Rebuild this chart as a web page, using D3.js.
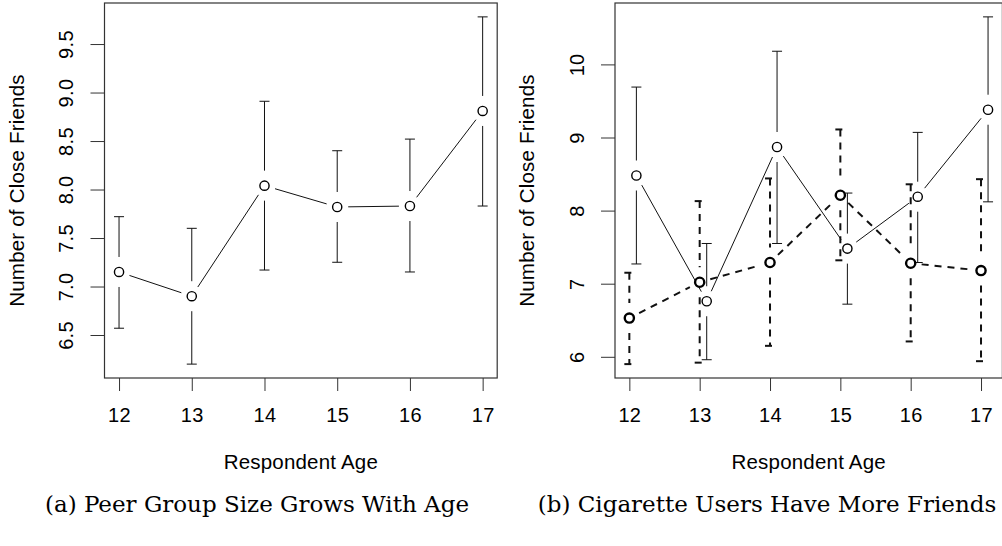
<!DOCTYPE html>
<html>
<head>
<meta charset="utf-8">
<script src="https://cdn.jsdelivr.net/npm/d3@7"></script>
<style>
  body { margin: 0; background: #fff; }
  svg { display: block; }
  .tick text { font-family: "Liberation Sans", Arial, sans-serif; font-size: 20px; letter-spacing: 0.3px; fill: #000; }
  .tick line { stroke: #333; }
  .title { font-family: "Liberation Sans", Arial, sans-serif; font-size: 20.5px; letter-spacing: 0.2px; fill: #000; }
  .caption { font-family: "DejaVu Serif", "Liberation Serif", serif; font-size: 23px; fill: #000; }
</style>
</head>
<body>
<div id="chart"></div>
<script>
// ages on the x axis
const ages = [12, 13, 14, 15, 16, 17];

// (a) all respondents: mean and interval ends
const peerMean = [7.15, 6.90, 8.04, 7.82, 7.83, 8.81];
const peerLo   = [6.57, 6.20, 7.17, 7.25, 7.15, 7.83];
const peerHi   = [7.72, 7.60, 8.91, 8.40, 8.52, 9.78];
const peerTicks = [6.5, 7.0, 7.5, 8.0, 8.5, 9.0, 9.5];

// (b) cigarette users (solid, shifted right) and non users (dashed)
const userMean = [8.48, 6.76, 8.87, 7.48, 8.19, 9.38];
const userLo   = [7.27, 5.96, 7.55, 6.72, 7.29, 8.12];
const userHi   = [9.69, 7.55, 10.18, 8.24, 9.07, 10.65];
const nonMean  = [6.53, 7.02, 7.29, 8.21, 7.28, 7.18];
const nonLo    = [5.90, 5.92, 6.15, 7.32, 6.21, 5.94];
const nonHi    = [7.15, 8.13, 8.44, 9.11, 8.36, 8.43];
const userShift = 0.1;
const cigTicks = [6, 7, 8, 9, 10];

const W = 1002, H = 546;
const svg = d3.select("#chart").append("svg").attr("width", W).attr("height", H);

// R pads the data range by 4% on each side
function padRange(lo, hi) {
    const d = (hi - lo) * 0.04;
    return [lo - d, hi + d];
}

function drawPanel(opt) {
    const x = d3.scaleLinear().domain(opt.xDom).range([opt.left, opt.right]);
    const y = d3.scaleLinear().domain(opt.yDom).range([opt.bottom, opt.top]);
    const g = svg.append("g");

    // box
    g.append("rect")
        .attr("x", opt.left).attr("y", opt.top)
        .attr("width", opt.right - opt.left).attr("height", opt.bottom - opt.top)
        .attr("fill", "none").attr("stroke", "#333").attr("stroke-width", 1.2);

    g.append("g")
        .attr("transform", `translate(0,${opt.bottom})`)
        .call(d3.axisBottom(x).tickValues(ages).tickSize(13).tickFormat(d3.format("d")))
        .call(a => a.select(".domain").remove())
        .call(a => a.selectAll("text").attr("y", 44).attr("dy", null));

    g.append("g")
        .attr("transform", `translate(${opt.left},0)`)
        .call(d3.axisLeft(y).tickValues(opt.ticks).tickSize(14).tickFormat(opt.fmt))
        .call(a => a.select(".domain").remove())
        .call(a => a.selectAll("text")
            .attr("x", null).attr("dy", null)
            .attr("text-anchor", "middle")
            .attr("transform", `translate(${opt.labelOff},0) rotate(-90)`));

    g.append("text").attr("class", "title")
        .attr("x", (opt.left + opt.right) / 2).attr("y", 469)
        .attr("text-anchor", "middle").text("Respondent Age");

    g.append("text").attr("class", "title")
        .attr("text-anchor", "middle")
        .attr("transform", `translate(${opt.left - 81},${(opt.top + opt.bottom) / 2}) rotate(-90)`)
        .text("Number of Close Friends");

    g.append("text").attr("class", "caption")
        .attr("x", opt.capX).attr("y", 512)
        .attr("text-anchor", "middle").text(opt.caption);

    return { g, x, y };
}

// one series: error bars with a gap round the point, type "b" line, open circles
function drawSeries(p, s) {
    const pts = ages.map((a, i) => ({
        px: p.x(a + s.shift), py: p.y(s.mean[i]),
        lo: p.y(s.lo[i]), hi: p.y(s.hi[i])
    }));
    const g = p.g.append("g")
        .attr("stroke", "#111").attr("stroke-width", s.width)
        .attr("stroke-dasharray", s.dash).attr("fill", "none");

    const barGap = 15, capW = 5, lineGap = 11;
    pts.forEach(d => {
        if (d.py - barGap > d.hi)
            g.append("line").attr("x1", d.px).attr("x2", d.px).attr("y1", d.hi).attr("y2", d.py - barGap);
        if (d.py + barGap < d.lo)
            g.append("line").attr("x1", d.px).attr("x2", d.px).attr("y1", d.py + barGap).attr("y2", d.lo);
        [d.hi, d.lo].forEach(cy => {
            g.append("line").attr("x1", d.px - capW).attr("x2", d.px + capW)
                .attr("y1", cy).attr("y2", cy).attr("stroke-dasharray", null);
        });
    });

    for (let i = 1; i < pts.length; i++) {
        const a = pts[i - 1], b = pts[i];
        const dx = b.px - a.px, dy = b.py - a.py;
        const len = Math.hypot(dx, dy);
        if (len <= 2 * lineGap) continue;
        const ux = dx / len, uy = dy / len;
        g.append("line")
            .attr("stroke-width", s.lineWidth)
            .attr("x1", a.px + ux * lineGap).attr("y1", a.py + uy * lineGap)
            .attr("x2", b.px - ux * lineGap).attr("y2", b.py - uy * lineGap);
    }

    p.g.append("g").selectAll("circle").data(pts).join("circle")
        .attr("cx", d => d.px).attr("cy", d => d.py).attr("r", 4.6)
        .attr("fill", "#fff").attr("stroke", "#000").attr("stroke-width", s.ptWidth);
}

// panel (a)
const pa = drawPanel({
    left: 104.5, right: 497.2, top: 3, bottom: 378,
    xDom: padRange(12, 17),
    yDom: padRange(d3.min(peerLo), d3.max(peerHi)),
    ticks: peerTicks, fmt: d3.format(".1f"), labelOff: -32,
    caption: "(a) Peer Group Size Grows With Age", capX: 257
});
drawSeries(pa, { mean: peerMean, lo: peerLo, hi: peerHi, shift: 0,
    width: 1, lineWidth: 1, dash: null, ptWidth: 1.4 });

// panel (b)
const pb = drawPanel({
    left: 615, right: 1002.4, top: 3, bottom: 378,
    xDom: padRange(12, 17 + userShift),
    yDom: padRange(d3.min(nonLo.concat(userLo)), d3.max(nonHi.concat(userHi))),
    ticks: cigTicks, fmt: d3.format("d"), labelOff: -31.5,
    caption: "(b) Cigarette Users Have More Friends", capX: 767
});
drawSeries(pb, { mean: userMean, lo: userLo, hi: userHi, shift: userShift,
    width: 1, lineWidth: 1, dash: null, ptWidth: 1.4 });
drawSeries(pb, { mean: nonMean, lo: nonLo, hi: nonHi, shift: 0,
    width: 2, lineWidth: 2, dash: "7,6", ptWidth: 2.4 });
</script>
</body>
</html>
